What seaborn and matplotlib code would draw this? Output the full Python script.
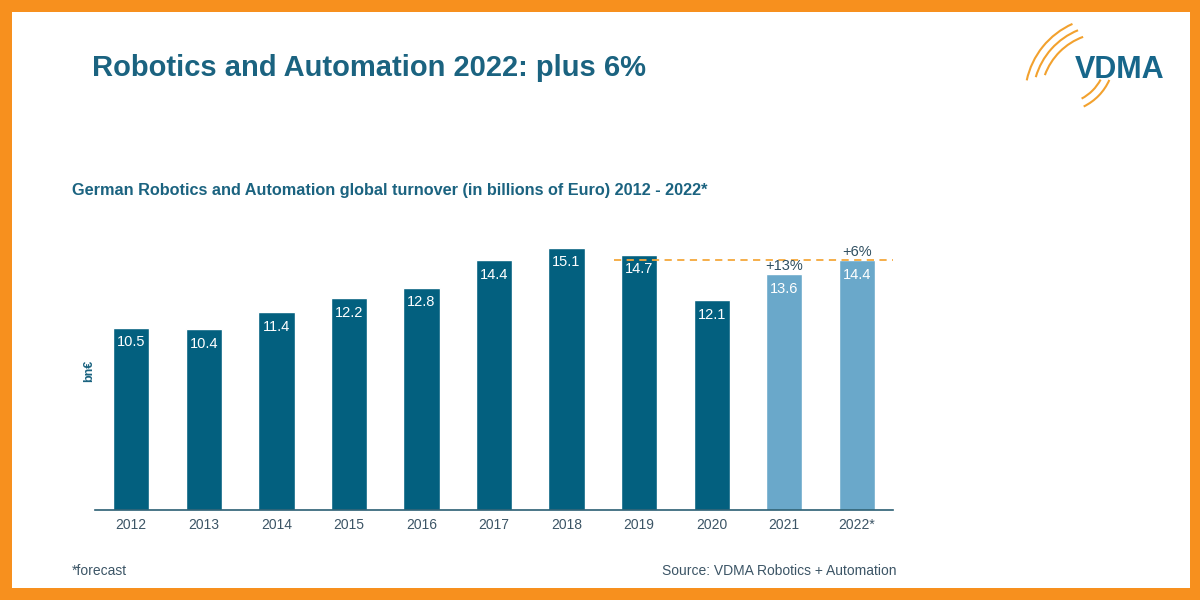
import matplotlib
matplotlib.use("Agg")
import matplotlib.pyplot as plt
from matplotlib.patches import Rectangle, Arc
import seaborn as sns
import pandas as pd

sns.set_theme(style="white")
plt.rcParams["font.family"] = ["Liberation Sans", "DejaVu Sans"]

# data
years = ["2012", "2013", "2014", "2015", "2016", "2017", "2018", "2019", "2020", "2021", "2022*"]
turnover = [10.5, 10.4, 11.4, 12.2, 12.8, 14.4, 15.1, 14.7, 12.1, 13.6, 14.4]
kind = ["actual"] * 9 + ["recent"] * 2
growth_labels = {"2021": "+13%", "2022*": "+6%"}

teal = "#03607F"
light = "#6AA8CA"
text_teal = "#1B6380"
orange = "#F7901E"
arc_col = "#F2A12E"

df = pd.DataFrame({"year": years, "turnover": turnover, "kind": kind})

fig = plt.figure(figsize=(12, 6), dpi=100)
fig.patch.set_facecolor(orange)

# white page inside the orange frame (pixel coords, y down)
bg = fig.add_axes([0, 0, 1, 1])
bg.set_xlim(0, 1200)
bg.set_ylim(600, 0)
bg.axis("off")
bg.add_patch(Rectangle((12, 12), 1178, 576, facecolor="white", edgecolor="none"))

# VDMA logo: arcs + text
for r, t1, t2 in [(64, 200, 250), (72, 196, 248), (80, 192, 246)]:
    bg.add_patch(Arc((1105, 97), r * 2, r * 2, theta1=t1, theta2=t2, color=arc_col, lw=1.5))
for r, t1, t2 in [(46, 28, 62), (54, 24, 64)]:
    bg.add_patch(Arc((1060, 58), r * 2, r * 2, theta1=t1, theta2=t2, color=arc_col, lw=1.5))
bg.text(1120, 70, "VDMA", ha="center", va="center", fontsize=22, fontweight="bold",
        color="#17668A")

# titles and notes
bg.text(92, 68, "Robotics and Automation 2022: plus 6%", ha="left", va="center",
        fontsize=21, fontweight="bold", color=text_teal)
bg.text(72, 190, "German Robotics and Automation global turnover (in billions of Euro) 2012 - 2022*",
        ha="left", va="center", fontsize=11.7, fontweight="bold", color=text_teal)
bg.text(72, 571, "*forecast", ha="left", va="center", fontsize=10, color="#3C5566")
bg.text(897, 571, "Source: VDMA Robotics + Automation", ha="right", va="center",
        fontsize=10, color="#3C5566")

# bar chart
ax = fig.add_axes([95 / 1200, 90 / 600, 798 / 1200, 278 / 600])
ax.set_facecolor("none")
sns.barplot(data=df, x="year", y="turnover", hue="kind", palette={"actual": teal, "recent": light},
            width=0.5, dodge=False, legend=False, ax=ax, saturation=1)
ax.set_xlim(-0.5, len(years) - 0.5)
ax.set_ylim(0, 16)

for i, v in enumerate(turnover):
    ax.text(i, v - 0.45, f"{v:.1f}", ha="center", va="top", color="white", fontsize=10.5)
    if years[i] in growth_labels:
        ax.text(i, v + 0.05, growth_labels[years[i]], ha="center", va="bottom",
                color="#2E4E60", fontsize=10.5)

ax.axhline(turnover[-1], xmin=(7 - 0.35 + 0.5) / len(years), xmax=1.0,
           color="#F5A83C", lw=1.3, ls=(0, (4, 3)))

for s in ["top", "right", "left"]:
    ax.spines[s].set_visible(False)
ax.spines["bottom"].set_color("#2B5F73")
ax.spines["bottom"].set_linewidth(1.2)
ax.set_yticks([])
ax.set_xlabel("")
ax.set_ylabel("bn€", fontsize=9, fontweight="bold", color=text_teal, labelpad=0)
ax.tick_params(axis="x", length=0, pad=6, labelsize=10, labelcolor="#3C5566")

plt.savefig("out.png", dpi=100, facecolor=fig.get_facecolor())
plt.close()
